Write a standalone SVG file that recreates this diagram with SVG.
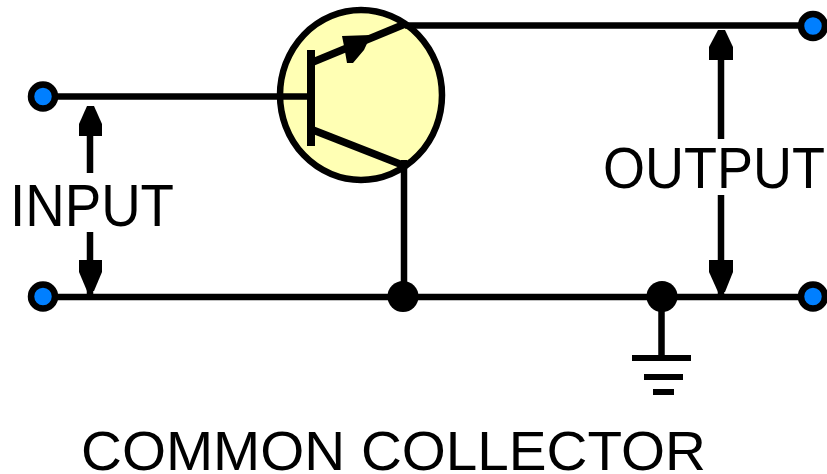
<svg xmlns="http://www.w3.org/2000/svg" width="827" height="474" viewBox="0 0 827 474">
<style>
.w{stroke:#000;stroke-width:6.5;fill:none}
.e{stroke:#000;stroke-width:7.5;fill:none}
.a{fill:#000;stroke:none}
.t{font-family:"Liberation Sans",Arial,sans-serif;fill:#000}
.term{fill:#007fff;stroke:#000;stroke-width:6.500}
.dot{fill:#000}
</style>
<rect width="827" height="474" fill="#fff"/>
<g id="transistor">
<ellipse cx="361" cy="95" rx="81" ry="85" fill="#ffffb4" stroke="#000" stroke-width="6.500"/>
</g>
<g id="connectors">
<path class="w" d="M42 96.500H311"/>
<path class="w" d="M42 297H814"/>
<path class="w" d="M405 25.500H814"/>
<path class="w" d="M404 160V297"/>
<path class="w" d="M661.500 297V358"/>
<path d="M311 50V146" stroke="#000" stroke-width="8" fill="none"/>
<path class="e" d="M313 62L405 24"/>
<path class="e" d="M313 130L405 166"/>
<path class="a" d="M342 36L371 35L364 50L353 63L347 63L344 46Z"/>
<path class="w" d="M90 128V173"/>
<path class="w" d="M90 232V297"/>
<path class="w" d="M721 60V139"/>
<path class="w" d="M721 195V297"/>
<path class="a" d="M87 106H94L102 124V136H79V124Z"/>
<path class="a" d="M79 260H102V272L94 291H87L79 272Z"/>
<path class="a" d="M718 30H725L733 47V60H709V47Z"/>
<path class="a" d="M709 260H733V272L725 292H718L709 272Z"/>
</g>
<g id="ground">
<rect x="632" y="355" width="59" height="6"/>
<rect x="644" y="374" width="39" height="6"/>
<rect x="653" y="389" width="21" height="6"/>
</g>
<g id="junctions">
<circle class="dot" cx="403" cy="296.500" r="15.500"/>
<circle class="dot" cx="662" cy="296.500" r="15.500"/>
</g>
<g id="terminals">
<circle class="term" cx="43" cy="96.500" r="12"/>
<circle class="term" cx="43" cy="296.500" r="12"/>
<circle class="term" cx="813" cy="26" r="12"/>
<circle class="term" cx="813" cy="296.500" r="12"/>
</g>
<g id="labels">
<text class="t" x="10" y="226" font-size="60" textLength="164" lengthAdjust="spacingAndGlyphs">INPUT</text>
<text class="t" transform="translate(603 187.500) scale(1 1.07)" font-size="54">OUTPUT</text>
<text class="t" x="81" y="470" font-size="55" textLength="625" lengthAdjust="spacingAndGlyphs">COMMON COLLECTOR</text>
</g>
</svg>
